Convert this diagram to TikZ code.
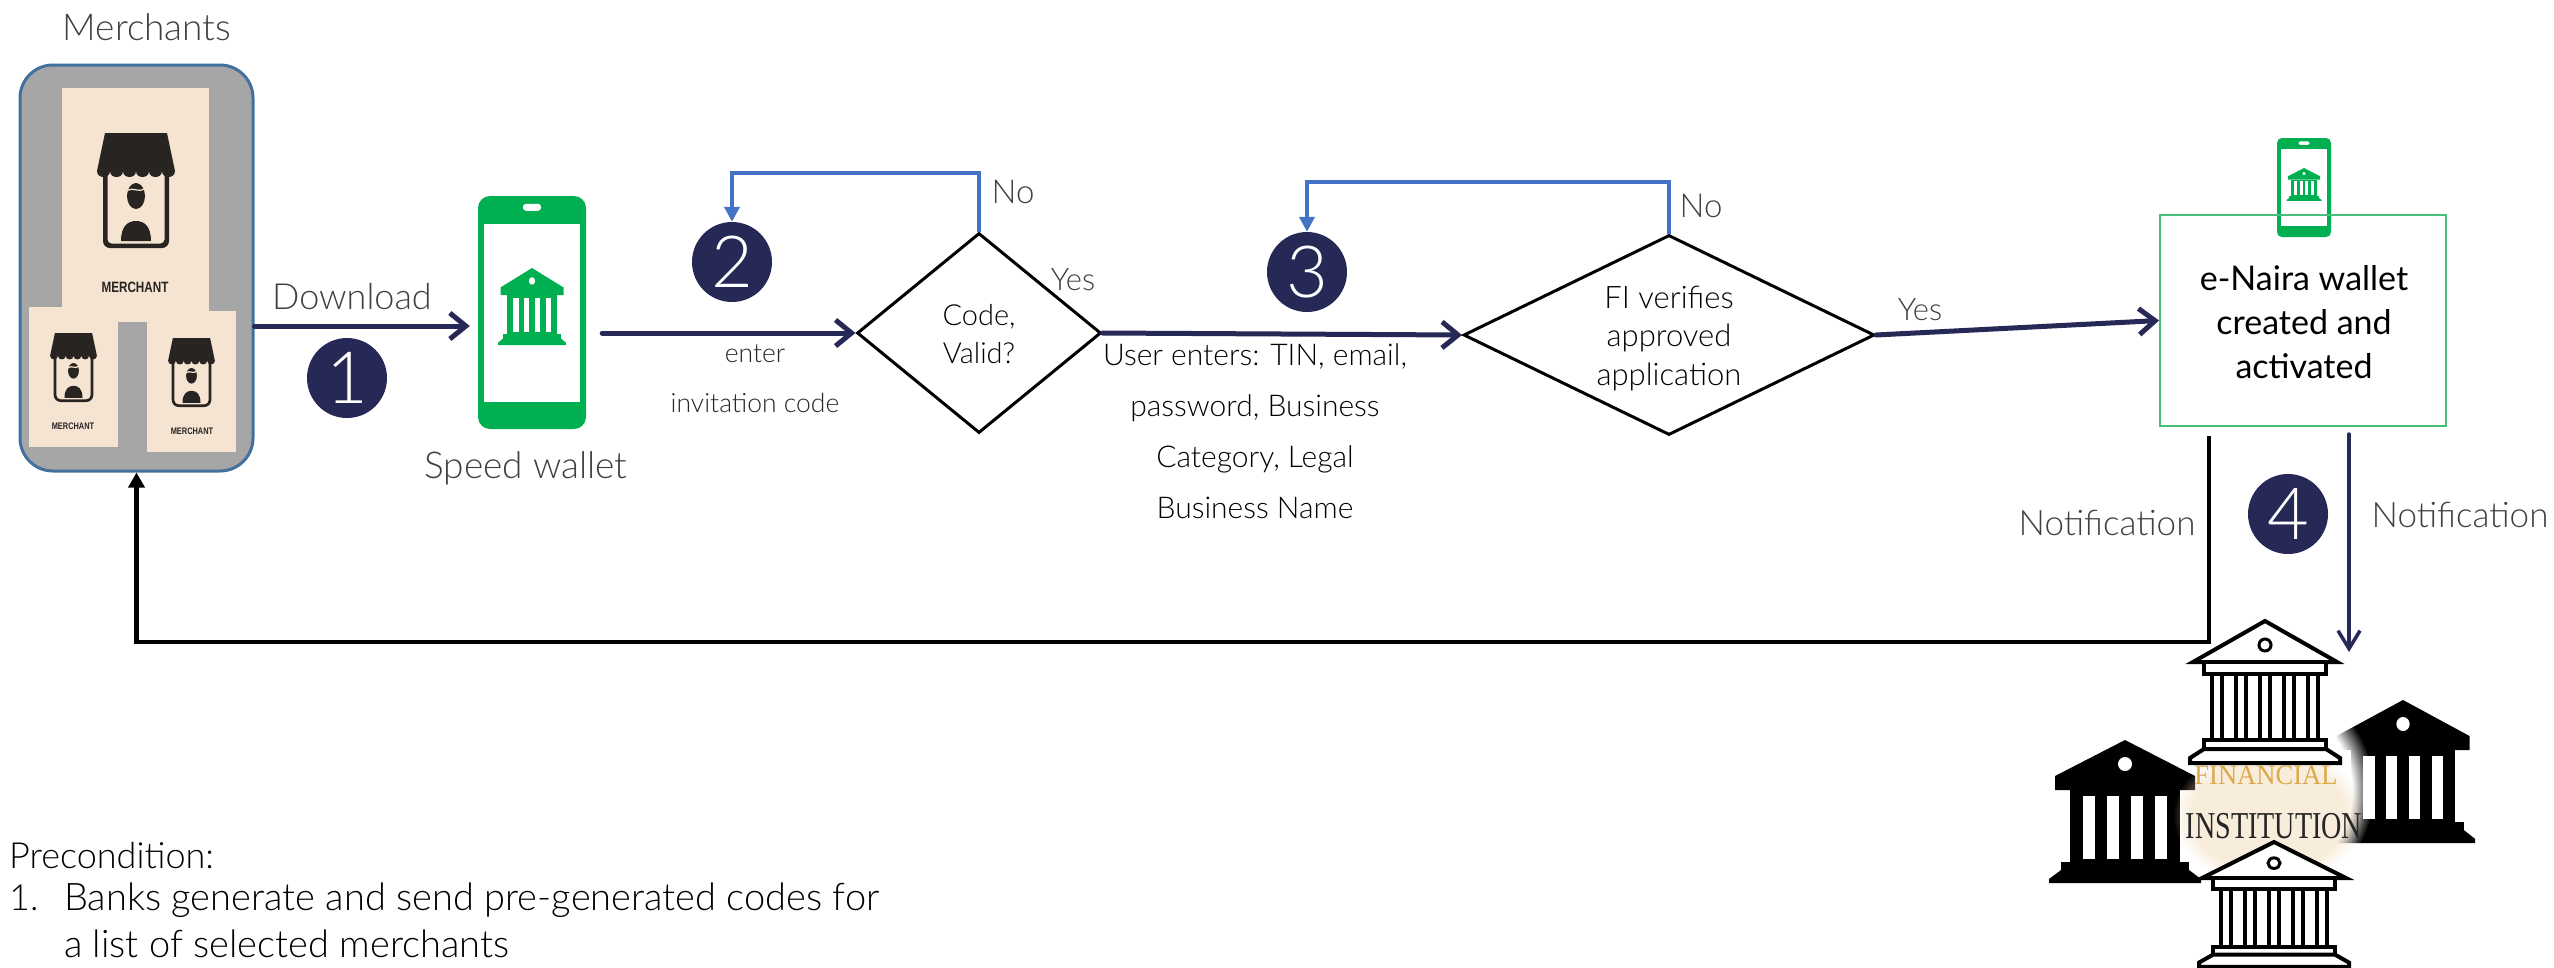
\documentclass[tikz,border=0pt]{standalone}
\usepackage{graphicx}
\usepackage{fontspec}
\setmainfont{Lato Light}
\newfontfamily\regfont{Lato}
\newfontfamily\cloudserif{Liberation Serif}
\newfontfamily\signsans{Liberation Sans}
\usetikzlibrary{shapes.geometric,arrows.meta,fadings,calc}

\definecolor{navy}{RGB}{38,40,86}
\definecolor{loopblue}{RGB}{68,114,196}
\definecolor{walletgreen}{RGB}{0,176,80}
\definecolor{boxgreen}{RGB}{70,190,120}
\definecolor{cardbeige}{RGB}{244,228,209}
\definecolor{panelgrey}{RGB}{166,166,166}
\definecolor{panelblue}{RGB}{65,113,156}
\definecolor{labelgrey}{RGB}{64,64,64}
\definecolor{icondark}{RGB}{40,36,34}
\definecolor{gold}{RGB}{222,168,76}

\newcommand{\setfs}[2]{\fontsize{#1}{#2}\selectfont}

\tikzset{
  lbl/.style={inner sep=0pt, text=labelgrey},
  darklbl/.style={inner sep=0pt, text=black},
  stepdot/.style={circle, fill=navy, minimum size=80, inner sep=0pt, text=white, font=\setfs{72}{72}},
  decision/.style={diamond, draw=black, line width=3pt, inner sep=0pt, fill=white},
  flow/.style={draw=navy, line width=5pt, line cap=round,
    -{Straight Barb[length=16pt,width=26pt,line width=5pt]}},
  retry/.style={draw=loopblue, line width=4pt, -{Triangle[length=15pt,width=15pt]}},
  backline/.style={draw=black, line width=4.5pt, -{Triangle[length=15pt,width=16pt]}},
  notify/.style={draw=navy, line width=3.5pt, line cap=round,
    -{Straight Barb[length=18pt,width=22pt,line width=3.5pt]}},
  % shop front with awning and shopkeeper
  merchanticon/.pic={
    \fill[even odd rule] [rounded corners=7] (-33,30) -- (-33,115) -- (33,115) -- (33,30) -- cycle
      [rounded corners=4] (-28.5,30) -- (-28.5,110.5) -- (28.5,110.5) -- (28.5,30) -- cycle;
    \fill (-31,0) -- (31,0) -- (39,38)
      .. controls (39,46) and (26,46) .. (26,38)
      .. controls (26,46) and (13,46) .. (13,38)
      .. controls (13,46) and (0,46) .. (0,38)
      .. controls (0,46) and (-13,46) .. (-13,38)
      .. controls (-13,46) and (-26,46) .. (-26,38)
      .. controls (-26,46) and (-39,46) .. (-39,38) -- cycle;
    \fill (0,63) ellipse[x radius=9, y radius=13];
    \draw[cardbeige, line width=1.2pt] (-9,58) .. controls (-3,53) and (3,61) .. (9,55);
    \fill (-15,108) .. controls (-15,93) and (-8,88) .. (0,88)
      .. controls (8,88) and (15,93) .. (15,108) -- cycle;
  },
  % solid bank building, drawn in the current colour
  solidbank/.pic={
    \fill (0,0) -- (70,36) -- (70,50) -- (-70,50) -- (-70,36) -- cycle;
    \fill[white] (0,24) circle[radius=7];
    \fill (-55,50) rectangle (55,123);
    \foreach \cx in {-36,-12,12,36} {\fill[white] (\cx-6,56) rectangle (\cx+6,119);}
    \fill (-64,122) rectangle (64,131);
    \fill (-64,130) -- (64,130) -- (76,139) -- (76,143) -- (-76,143) -- (-76,139) -- cycle;
  },
  % outlined bank building
  outlinebank/.pic={
    \begin{scope}[draw=black, line width=4pt, line join=miter, fill=white]
      \filldraw (0,0) -- (72,41) -- (-72,41) -- cycle;
      \draw[line width=3pt] (0,24) circle[radius=6];
      \filldraw (-61,41) rectangle (61,53);
      \foreach \cx in {-48,-24,0,24,48} {\draw (\cx-5,53) rectangle (\cx+5,119);}
      \filldraw (-61,119) rectangle (61,128);
      \filldraw (-61,128) -- (61,128) -- (75,137) -- (75,142) -- (-75,142) -- (-75,137) -- cycle;
    \end{scope}
  }
}

\begin{document}
\begin{tikzpicture}[x=1pt,y=-1pt]
\useasboundingbox (0,0) rectangle (2554,967);
\fill[white] (0,0) rectangle (2554,967);

% ---------------- merchants panel ----------------
\node[lbl, anchor=base, font=\setfs{37}{43}] (merchtitle) at (147,40) {Merchants};
\node[draw=panelblue, line width=3pt, fill=panelgrey, rounded corners=33pt,
      minimum width=233, minimum height=406, inner sep=0pt] (merch) at (136.5,268) {};
\fill[cardbeige] (62,88) rectangle (209,322);
\fill[cardbeige] (29,307) rectangle (118,447);
\fill[cardbeige] (147,311) rectangle (236,452);
\pic[color=icondark] at (136,133) {merchanticon};
\pic[color=icondark, scale=0.6] at (73.5,333) {merchanticon};
\pic[color=icondark, scale=0.6] at (191.5,338) {merchanticon};
\node[inner sep=0pt, text=icondark, font=\signsans\bfseries\setfs{15}{15}] (shop1) at (135,287) {\scalebox{0.78}[1]{MERCHANT}};
\node[inner sep=0pt, text=icondark, font=\signsans\bfseries\setfs{9.5}{9.5}] (shop2) at (73,426) {\scalebox{0.78}[1]{MERCHANT}};
\node[inner sep=0pt, text=icondark, font=\signsans\bfseries\setfs{9.5}{9.5}] (shop3) at (192,431) {\scalebox{0.78}[1]{MERCHANT}};

% ---------------- speed wallet phone ----------------
\node[fill=walletgreen, rounded corners=12pt, minimum width=108, minimum height=233, inner sep=0pt] (wallet) at (532,312.5) {};
\fill[white] ($(wallet.north west)+(6,28)$) rectangle ($(wallet.south east)+(-6,-27)$);
\fill[white, rounded corners=3pt] ($(wallet.north)+(-9,8)$) rectangle ($(wallet.north)+(9,15)$);
\pic[color=walletgreen, xscale=0.45, yscale=0.54] at (532,268) {solidbank};
\node[lbl, anchor=base, font=\setfs{37}{43}] (wallettext) at (526,478) {Speed wallet};

% ---------------- step markers ----------------
\node[stepdot] (c1) at (347,378) {1};
\node[stepdot] (c2) at (732,262) {2};
\node[stepdot] (c3) at (1307,272) {3};
\node[stepdot] (c4) at (2288,514) {4};

% ---------------- decisions ----------------
\node[decision, minimum width=244, minimum height=200] (d1) at (979,333) {};
\node[darklbl, align=center, font=\setfs{29}{38}] (d1text) at (979,336.4) {\strut Code,\\Valid?\strut};
\node[decision, minimum width=411, minimum height=200] (d2) at (1669,335) {};
\node[darklbl, align=center, font=\setfs{31}{38.5}] (d2text) at (1669,338.8) {\strut FI verifies\\approved\\application\strut};

% ---------------- wallet created box ----------------
\node[fill=walletgreen, rounded corners=5pt, minimum width=54, minimum height=99, inner sep=0pt] (nairaphone) at (2304,187.5) {};
\fill[white] ($(nairaphone.north west)+(4,11)$) rectangle ($(nairaphone.south east)+(-4,-11)$);
\fill[white, rounded corners=1.5pt] ($(nairaphone.north)+(-5.5,3.5)$) rectangle ($(nairaphone.north)+(5.5,7)$);
\pic[color=walletgreen, scale=0.23] at (2304,168) {solidbank};
\node[draw=boxgreen, line width=2pt, minimum width=286, minimum height=211, inner sep=0pt] (enaira) at (2303,320.5) {};
\node[inner sep=0pt, text=black, align=center, font=\regfont\setfs{34}{44}] (enairatext) at (2304,325.2) {\strut e-Naira wallet\\created and\\activated\strut};

% ---------------- main flow ----------------
\draw[flow, shorten >=8pt] (merch.east |- 0,326) -- (wallet.west |- 0,326);
\node[lbl, anchor=base, font=\setfs{36}{42}] (dltext) at (352,309) {Download};

\draw[flow, shorten <=16pt] (wallet.east |- d1.west) -- (d1.west);
\node[lbl, text=black!85, align=center, font=\setfs{26.5}{50}] (codetext) at (755,377) {\strut enter\\invitation code\strut};

\draw[flow] (d1.east) -- (d2.west);
\node[darklbl, align=center, font=\setfs{30}{51}] (usertext) at (1255,431.3)
  {\strut User enters: TIN, email,\\password, Business\\Category, Legal\\Business Name\strut};

\draw[flow] (d2.east) -- (enaira.west);

% retry loops
\draw[retry] (d1.north) -- ++(0,-59) -| (c2.north);
\draw[retry] (d2.north) -- ++(0,-52) -| (c3.north);
\node[lbl, anchor=base, font=\setfs{33}{38}] (no1) at (1013,203) {No};
\node[lbl, anchor=base, font=\setfs{33}{38}] (no2) at (1701,217) {No};
\node[lbl, anchor=base, font=\setfs{31}{36}] (yes1) at (1073,290) {Yes};
\node[lbl, anchor=base, font=\setfs{31}{36}] (yes2) at (1920,320) {Yes};

% ---------------- notifications ----------------
\coordinate (nl) at (2209,642);
\coordinate (nr) at (2349,652);
\draw[backline, shorten <=9pt] (enaira.south -| nl) -- (nl) -| (merch.south);
\draw[notify, shorten <=7pt] (enaira.south -| nr) -- (nr);
\node[lbl, anchor=base, font=\setfs{35}{40}] (note1) at (2107,535) {Notification};
\node[lbl, anchor=base, font=\setfs{35}{40}] (note2) at (2460,527) {Notification};

% ---------------- financial institutions ----------------
\pic[color=black, xscale=0.95] at (2403,700) {solidbank};
\fill[white, path fading=circle with fuzzy edge 20 percent] (2262,790) circle[radius=112];
\pic[color=black] at (2125,740) {solidbank};
\fill[gold!45, opacity=0.45, path fading=circle with fuzzy edge 20 percent] (2268,815) ellipse[x radius=95, y radius=70];
\node[inner sep=0pt, anchor=base, text=gold, font=\cloudserif\setfs{28}{28}] (fintext) at (2266,784) {\scalebox{0.95}[1]{FINANCIAL}};
\node[inner sep=0pt, anchor=base, text=black!85, font=\cloudserif\setfs{38}{38}] (insttext) at (2274,838) {\scalebox{0.74}[1]{INSTITUTION}};
\pic at (2265,621) {outlinebank};
\pic[yscale=0.88] at (2274,842) {outlinebank};

% ---------------- precondition ----------------
\node[inner sep=0pt, anchor=base west, text=black, font=\setfs{36}{42}] (pretitle) at (9,868) {Precondition:};
\node[inner sep=0pt, anchor=base west, text=black, font=\setfs{36}{42}] (prenum) at (9,910) {1.};
\node[inner sep=0pt, anchor=west, text=black, align=left, font=\setfs{38}{47}] (pretext) at (64,924.1)
  {\strut Banks generate and send pre-generated codes for\\a list of selected merchants\strut};
\end{tikzpicture}
\end{document}
